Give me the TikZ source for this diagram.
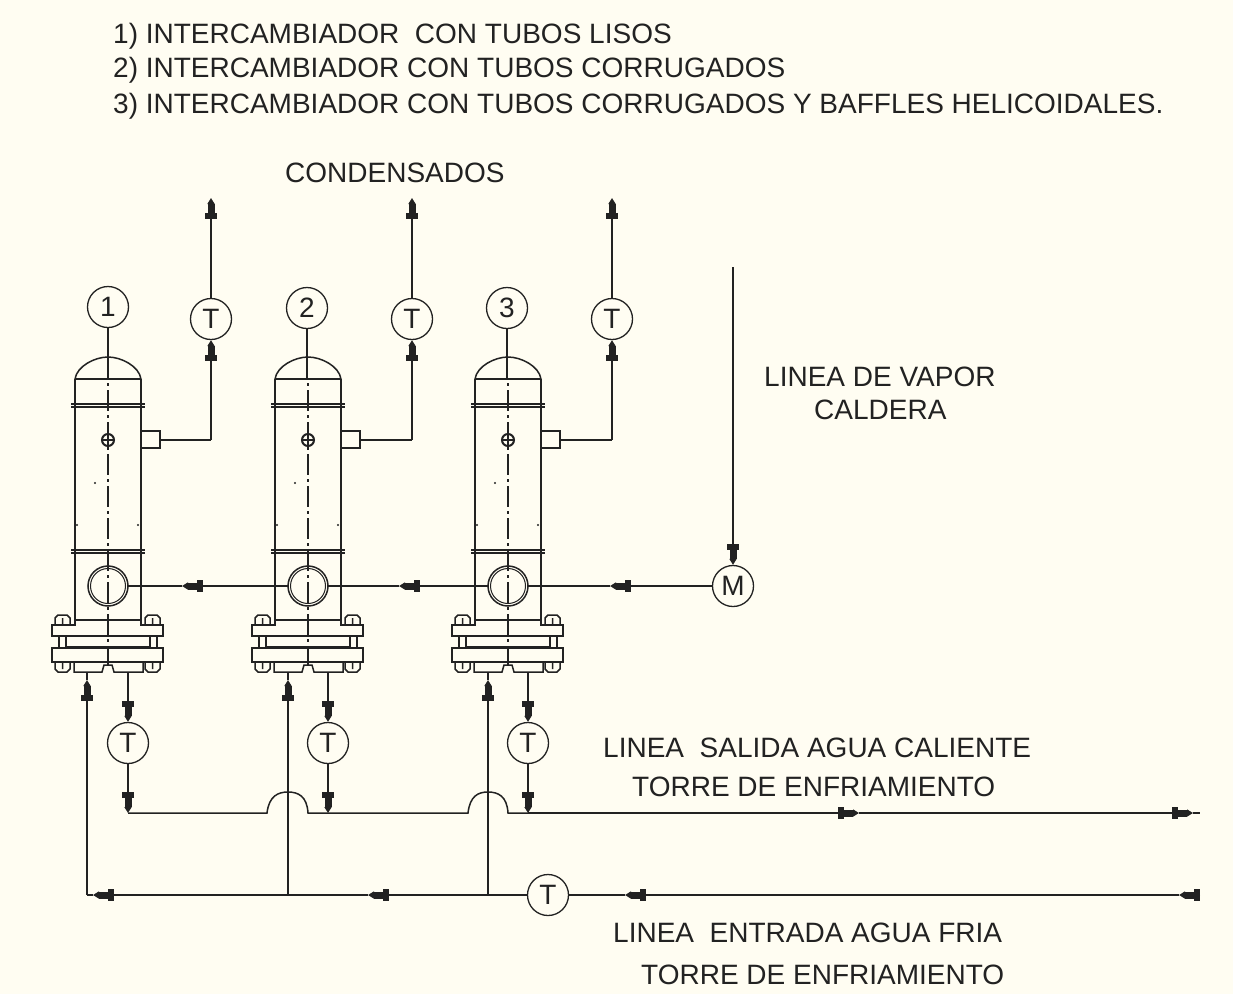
\documentclass[tikz,border=0pt]{standalone}
\usepackage{fontspec}
\setmainfont{Liberation Sans}
\usetikzlibrary{arrows.meta}
\definecolor{fondo}{HTML}{FFFDF2}
\definecolor{trazo}{HTML}{222222}
\tikzset{
  flecha/.tip={Rectangle[length=6,width=12,sep=0pt] Rectangle[length=9,width=7,sep=0pt] Triangle[length=6,width=7,sep=0pt]},
  linea/.style={line width=1.5pt,color=trazo},
  tubo/.style={linea,-flecha},
  eje/.style={line width=1.4pt,color=trazo,dash pattern=on 21pt off 4pt on 3pt off 4pt,dash phase=22pt},
  instr/.style={circle,draw=trazo,line width=1.3pt,minimum size=41pt,inner sep=0pt,font=\fontsize{28}{28}\selectfont,text=trazo},
  rotulo/.style={anchor=base west,inner sep=0pt,font=\fontsize{28}{28}\selectfont,text=trazo},
}
\begin{document}
\begin{tikzpicture}[x=1pt,y=-1pt]
   \fill[fondo] (0,0) rectangle (1233,994);
   \useasboundingbox (0,0) rectangle (1233,994);
   % textos
   \node[rotulo] (t1) at (113,43) {1) INTERCAMBIADOR\ \ CON TUBOS LISOS};
   \node[rotulo] (t2) at (113,77) {2) INTERCAMBIADOR CON TUBOS CORRUGADOS};
   \node[rotulo] (t3) at (113,113) {3) INTERCAMBIADOR CON TUBOS CORRUGADOS Y BAFFLES HELICOIDALES.};
   \node[rotulo] (cond) at (285,182) {CONDENSADOS};
   \node[rotulo] (vap1) at (764,386) {LINEA DE VAPOR};
   \node[rotulo] (vap2) at (814,419) {CALDERA};
   \node[rotulo] (sal1) at (603,757) {LINEA\ \ SALIDA AGUA CALIENTE};
   \node[rotulo] (sal2) at (632,796) {TORRE DE ENFRIAMIENTO};
   \node[rotulo] (ent1) at (613,942) {LINEA\ \ ENTRADA AGUA FRIA};
   \node[rotulo] (ent2) at (641,984) {TORRE DE ENFRIAMIENTO};
   % intercambiadores
   \foreach \n/\dx in {1/0,2/200,3/400}{
     \begin{scope}[shift={(\dx,0)}]
       \draw[linea] (75,620) -- (75,379) (141,379) -- (141,620) (75,379) -- (141,379);
       \draw[linea] (75,379) .. controls (77,366) and (95,357) .. (108,357) .. controls (121,357) and (139,366) .. (141,379);
       \draw[linea] (71,404) -- (145,404) (71,407) -- (145,407);
       \draw[linea] (71,550) -- (145,550) (71,553) -- (145,553);
       \draw[eje] (108,380) -- (108,648);
       \fill[trazo] (95,483) circle (1.2);
       \fill[trazo] (77,525) circle (1.2);
       \fill[trazo] (138,525) circle (1.2);
       % mirilla
       \draw[line width=2pt,color=trazo] (108,440) circle (6);
       \draw[linea] (102,440) -- (114,440) (108,434) -- (108,446);
       % boca de vapor
       \draw[linea] (108,586) circle (20);
       \draw[line width=1pt,color=trazo] (108,586) circle (17.5);
       % bridas
       \draw[linea] (75,620) -- (141,620) (75,620) -- (75,625) -- (52,625) -- (52,636) -- (163,636) -- (163,625) -- (141,625) -- (141,620);
       \draw[linea] (66,636) -- (66,647) (150,636) -- (150,647);
       \draw[line width=2.5pt,color=trazo] (66,647) -- (150,647);
       \draw[linea] (59,636) -- (59,648) (157,636) -- (157,648);
       \draw[linea] (52,648) rectangle (163,662);
       \draw[linea] (74,662) -- (74,672) -- (102,672) -- (104,665) -- (112,665) -- (114,672) -- (143,672) -- (143,662);
       \draw[linea] (108,648) -- (108,665);
       % tuercas
       \foreach \tx in {55,145}{
         \draw[linea] (\tx,625) -- (\tx,618) -- (\tx+3,615) -- (\tx+12,615) -- (\tx+15,618) -- (\tx+15,625) (\tx+7.5,618) -- (\tx+7.5,625);
         \draw[linea] (\tx,662) -- (\tx,669) -- (\tx+3,672) -- (\tx+12,672) -- (\tx+15,669) -- (\tx+15,662) (\tx+7.5,662) -- (\tx+7.5,669);
       }
       % purga
       \draw[linea] (141,431) rectangle (160,448);
     \end{scope}
   }
   % instrumentos
   \node[instr] (n1) at (108,307) {1};
   \node[instr] (n2) at (307,308) {2};
   \node[instr] (n3) at (507,308) {3};
   \foreach \n/\x in {1/211,2/412,3/612}{
     \node[instr] (ts\n) at (\x,319) {T};
   }
   \foreach \n/\x in {1/128,2/328,3/528}{
     \node[instr] (tb\n) at (\x,743) {T};
   }
   \node[instr] (tent) at (548,895) {T};
   \node[instr] (mot) at (733,586) {M};
   % etiquetas
   \coordinate (dome1) at (108,379);
   \coordinate (dome2) at (307,379);
   \coordinate (dome3) at (507,379);
   \foreach \n in {1,2,3}{
     \draw[linea] (n\n) -- (dome\n);
   }
   % condensados
   \foreach \n/\dx/\x in {1/0/211,2/200/412,3/400/612}{
     \coordinate (pu\n) at (160+\dx,440);
     \coordinate (co\n) at (\x,440);
     \coordinate (sa\n) at (\x,198);
     \draw[linea] (pu\n) -- (co\n);
     \draw[tubo] (co\n) -- (ts\n);
     \draw[tubo] (ts\n) -- (sa\n);
     \coordinate (ba\n) at (128+\dx,672);
     \draw[tubo] (ba\n) -- (tb\n);
   }
   \coordinate (col1) at (128,813);
   \coordinate (col2) at (328,813);
   \coordinate (col3) at (528,813);
   \foreach \n in {1,2,3}{
     \draw[tubo] (tb\n) -- (col\n);
   }
   % salida agua caliente
   \coordinate (arco1a) at (267,813);
   \coordinate (arco1b) at (308,813);
   \coordinate (arco2a) at (468,813);
   \coordinate (arco2b) at (508,813);
   \coordinate (flsal) at (859,813);
   \coordinate (flfin) at (1193,813);
   \coordinate (finsal) at (1200,813);
   \draw[linea] (col1) -- (arco1a) .. controls (269,796) and (278,792) .. (288,792) .. controls (298,792) and (307,796) .. (arco1b) -- (col2) -- (arco2a) .. controls (470,796) and (478,792) .. (488,792) .. controls (498,792) and (507,796) .. (arco2b) -- (col3);
   \draw[tubo] (col3) -- (flsal);
   \draw[tubo] (flsal) -- (flfin);
   \draw[linea] (flfin) -- (finsal);
   % entrada agua fria
   \coordinate (ini) at (1200,895);
   \coordinate (fl1) at (1179,895);
   \coordinate (fl2) at (625,895);
   \coordinate (nu3) at (488,895);
   \coordinate (fl3) at (368,895);
   \coordinate (nu2) at (288,895);
   \coordinate (fl4) at (93,895);
   \coordinate (esq) at (87,895);
   \foreach \n/\x in {1/87,2/288,3/488}{
     \coordinate (en\n) at (\x,680);
     \coordinate (br\n) at (\x,672);
     \draw[linea] (en\n) -- (br\n);
   }
   \draw[tubo] (ini) -- (fl1);
   \draw[tubo] (fl1) -- (fl2);
   \draw[linea] (fl2) -- (tent);
   \draw[linea] (tent) -- (nu3);
   \draw[tubo] (nu3) -- (fl3);
   \draw[linea] (fl3) -- (nu2);
   \draw[tubo] (nu2) -- (fl4);
   \draw[linea] (fl4) -- (esq);
   \draw[tubo] (esq) -- (en1);
   \draw[tubo] (nu2) -- (en2);
   \draw[tubo] (nu3) -- (en3);
   % vapor
   \coordinate (cal) at (733,267);
   \draw[tubo] (cal) -- (mot);
   \coordinate (va3) at (610,586);
   \coordinate (bo3) at (528,586);
   \coordinate (bi3) at (488,586);
   \coordinate (va2) at (399,586);
   \coordinate (bo2) at (328,586);
   \coordinate (bi2) at (288,586);
   \coordinate (va1) at (182,586);
   \coordinate (bo1) at (128,586);
   \draw[tubo] (mot) -- (va3);
   \draw[linea] (va3) -- (bo3);
   \draw[tubo] (bi3) -- (va2);
   \draw[linea] (va2) -- (bo2);
   \draw[tubo] (bi2) -- (va1);
   \draw[linea] (va1) -- (bo1);
 \end{tikzpicture}
\end{document}
